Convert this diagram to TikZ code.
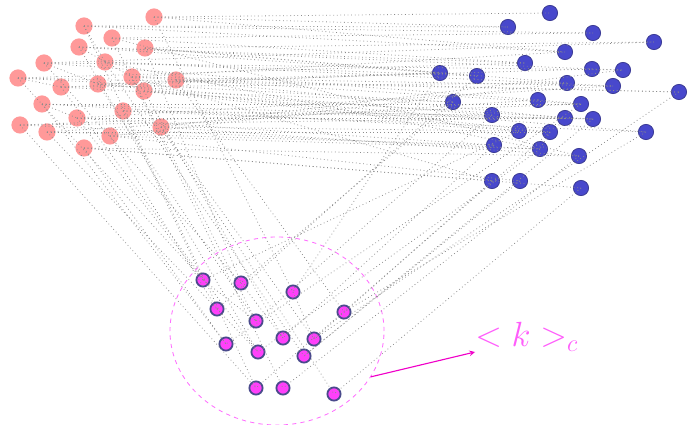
\documentclass[tikz,border=0pt]{standalone}
\usepackage{amsmath,amssymb}
\usepackage{xcolor}
\usepackage{tikz}
\usetikzlibrary{positioning}
\usetikzlibrary{arrows}
\usetikzlibrary{shapes.geometric}

\definecolor{salmon}{RGB}{255,153,153}
\definecolor{indigo}{RGB}{72,72,204}
\definecolor{indigoline}{RGB}{60,60,150}
\definecolor{pinkfill}{RGB}{255,64,250}
\definecolor{pinkline}{RGB}{74,74,140}
\definecolor{pinkdash}{RGB}{255,110,255}
\definecolor{pinkarrow}{RGB}{240,0,200}

\tikzset{
    rednode/.style={circle, fill=salmon, inner sep=0pt, minimum size=0.43cm},
    bluenode/.style={circle, draw=indigoline, line width=0.6pt, fill=indigo, inner sep=0pt, minimum size=0.38cm},
    pinknode/.style={circle, draw=pinkline, line width=1.3pt, fill=pinkfill, inner sep=0pt, minimum size=0.33cm},
    link/.style={dotted, black!45, line width=0.55pt}
}

\begin{document}
\begin{tikzpicture}[x=0.025cm, y=-0.025cm]
    \useasboundingbox (0,0) rectangle (696,425);

    % Cluster
    \node[draw=pinkdash, dashed, line width=0.6pt, ellipse, minimum width=5.35cm, minimum height=4.7cm] (cl) at (277,331) {};

    % Nodes
    \node[rednode] (r1) at (154,17) {};
    \node[rednode] (r2) at (84,26) {};
    \node[rednode] (r3) at (112,38) {};
    \node[rednode] (r4) at (79,47) {};
    \node[rednode] (r5) at (145,48) {};
    \node[rednode] (r6) at (105,62) {};
    \node[rednode] (r7) at (44,63) {};
    \node[rednode] (r8) at (18,78) {};
    \node[rednode] (r9) at (132,77) {};
    \node[rednode] (r10) at (176,80) {};
    \node[rednode] (r11) at (98,84) {};
    \node[rednode] (r12) at (61,87) {};
    \node[rednode] (r13) at (144,91) {};
    \node[rednode] (r14) at (42,104) {};
    \node[rednode] (r15) at (123,111) {};
    \node[rednode] (r16) at (77,118) {};
    \node[rednode] (r17) at (20,125) {};
    \node[rednode] (r18) at (161,127) {};
    \node[rednode] (r19) at (47,132) {};
    \node[rednode] (r20) at (110,136) {};
    \node[rednode] (r21) at (84,148) {};

    \node[bluenode] (b1) at (550,13) {};
    \node[bluenode] (b2) at (508,27) {};
    \node[bluenode] (b3) at (593,33) {};
    \node[bluenode] (b4) at (654,42) {};
    \node[bluenode] (b5) at (565,52) {};
    \node[bluenode] (b6) at (525,63) {};
    \node[bluenode] (b7) at (440,73) {};
    \node[bluenode] (b8) at (477,76) {};
    \node[bluenode] (b9) at (592,69) {};
    \node[bluenode] (b10) at (623,70) {};
    \node[bluenode] (b11) at (567,83) {};
    \node[bluenode] (b12) at (613,86) {};
    \node[bluenode] (b13) at (679,92) {};
    \node[bluenode] (b14) at (453,102) {};
    \node[bluenode] (b15) at (538,100) {};
    \node[bluenode] (b16) at (581,104) {};
    \node[bluenode] (b17) at (492,115) {};
    \node[bluenode] (b18) at (565,118) {};
    \node[bluenode] (b19) at (593,119) {};
    \node[bluenode] (b20) at (519,131) {};
    \node[bluenode] (b21) at (550,132) {};
    \node[bluenode] (b22) at (646,132) {};
    \node[bluenode] (b23) at (494,145) {};
    \node[bluenode] (b24) at (540,149) {};
    \node[bluenode] (b25) at (579,156) {};
    \node[bluenode] (b26) at (492,181) {};
    \node[bluenode] (b27) at (520,181) {};
    \node[bluenode] (b28) at (581,188) {};

    \node[pinknode] (m1) at (203,280) {};
    \node[pinknode] (m2) at (241,283) {};
    \node[pinknode] (m3) at (293,292) {};
    \node[pinknode] (m4) at (217,309) {};
    \node[pinknode] (m5) at (344,312) {};
    \node[pinknode] (m6) at (256,321) {};
    \node[pinknode] (m7) at (283,338) {};
    \node[pinknode] (m8) at (314,339) {};
    \node[pinknode] (m9) at (226,344) {};
    \node[pinknode] (m10) at (258,352) {};
    \node[pinknode] (m11) at (304,356) {};
    \node[pinknode] (m12) at (256,388) {};
    \node[pinknode] (m13) at (283,388) {};
    \node[pinknode] (m14) at (334,394) {};

    % Label
    \node[anchor=south west, inner sep=0pt, text=pinkfill!85!white, font=\fontsize{23}{28}\selectfont] (kc) at (475,352) {$<k>_c$};

    % Edges
    \foreach \a/\b in {r1/b1, r1/b2, r2/b2, r2/b5, r3/b3, r3/b6, r4/b9, r4/b7, r5/b4, r5/b11,
        r6/b8, r6/b12, r7/b10, r7/b15, r8/b13, r8/b14, r9/b16, r9/b5, r10/b13, r10/b18,
        r11/b17, r11/b9, r12/b19, r12/b7, r13/b20, r13/b22, r14/b21, r14/b16, r15/b22, r15/b19,
        r16/b23, r16/b12, r17/b24, r17/b18, r18/b25, r18/b10, r19/b21, r19/b15, r20/b27, r20/b11,
        r21/b28, r21/b26, r3/b25, r6/b24, r9/b26, r2/b3, r4/b6, r7/b4,
        r1/b5, r5/b8, r10/b7, r13/b14, r15/b17, r18/b20, r12/b11, r8/b6, r17/b16, r19/b23,
        r11/b21, r14/b19, r16/b18, r20/b24, r21/b25, r9/b12,
        r1/m3, r5/m2, r9/m6, r10/m5, r13/m7, r15/m1, r18/m8, r20/m4, r21/m9, r16/m1,
        r19/m4, r14/m9, r12/m10, r11/m6, r17/m12, r8/m1, r7/m2, r6/m11, r4/m10, r3/m13,
        r2/m12, r18/m14,
        b7/m3, b14/m2, b17/m6, b23/m7, b26/m8, b27/m11, b28/m14, b25/m13, b22/m5, b20/m1,
        b24/m10, b21/m12, b13/m8, b8/m4, b16/m9, b19/m11,
        r8/r12, r7/r11, r14/r16, r2/r6, r4/r9, b9/b10, b15/b16, b21/b24,
        m1/m6, m2/m7, m4/m10, m3/m8}
        \draw[link] (\a.center) -- (\b.center);

    % Arrow
    \draw[->, >=stealth, pinkarrow, line width=0.8pt] (cl.-26) -- (kc.south west);
\end{tikzpicture}
\end{document}
